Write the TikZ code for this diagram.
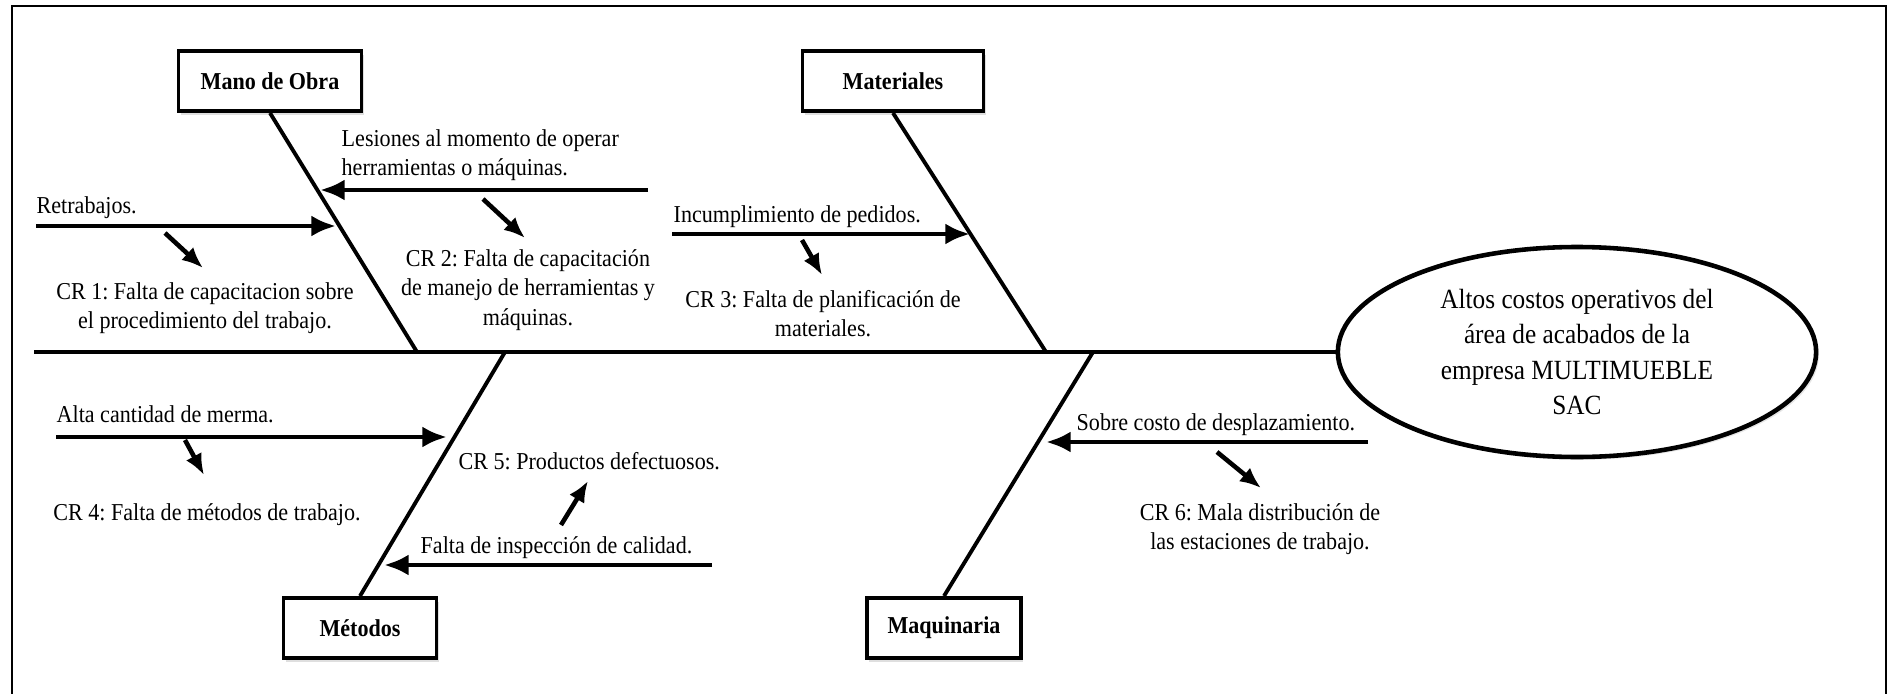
\documentclass[tikz,border=0pt]{standalone}
\usepackage{fontspec}
\setmainfont{Liberation Serif}[FakeStretch=0.91]
\usetikzlibrary{arrows.meta,shadows,shapes.geometric}
\frenchspacing
\begin{document}
\begin{tikzpicture}[x=0.01cm,y=-0.01cm,
	every node/.style={font=\fontsize{6.9pt}{8.3pt}\selectfont},
	cat/.style={draw,line width=1.1pt,minimum height=0.6cm,fill=white,
		font=\fontsize{6.9pt}{8.3pt}\selectfont\bfseries,
		drop shadow={opacity=0.25,shadow xshift=0.6pt,shadow yshift=-1.2pt}},
	lbl/.style={anchor=west,align=left,inner xsep=0pt},
	bone/.style={line width=1.1pt},
	cause/.style={line width=1.4pt,-{Latex[length=7pt,width=6pt]}},
	link/.style={line width=1.3pt,-{Latex[length=6pt,width=5pt]}}]
	\useasboundingbox (0,0) rectangle (1893,694);
	\draw[line width=0.8pt] (12,694) -- (12,6) -- (1886,6) -- (1886,694);

	% efecto y espina
	\node[draw,ellipse,line width=1.3pt,minimum width=4.78cm,minimum height=1.84cm,align=center,
		font=\fontsize{7.9pt}{10pt}\selectfont,
		drop shadow={opacity=0.2,shadow xshift=0.8pt,shadow yshift=-0.8pt},fill=white]
		(efecto) at (1577,352) {Altos costos operativos del\\ área de acabados de la\\ empresa MULTIMUEBLE\\ SAC};
	\coordinate (cola) at (34,352);
	\draw[line width=1.4pt] (cola) -- (efecto.west);

	% categorias
	\node[cat,minimum width=1.83cm] (mano) at (270,81) {Mano de Obra};
	\node[cat,minimum width=1.81cm] (mat) at (893,81) {Materiales};
	\node[cat,minimum width=1.53cm] (met) at (360,628) {Métodos};
	\node[cat,minimum width=1.54cm] (maq) at (944,628) {Maquinaria};
	\coordinate (s1) at (417,352);
	\coordinate (s2) at (1046,352);
	\coordinate (s3) at (505,352);
	\coordinate (s4) at (1093,352);
	\draw[bone] (mano.south) -- (s1);
	\draw[bone] (mat.south) -- (s2);
	\draw[bone] (met.north) -- (s3);
	\draw[bone] (maq.north) -- (s4);

	% Mano de Obra
	\node[lbl] (les) at (341,155) {Lesiones al momento de operar\\ herramientas o máquinas.};
	\coordinate (les-a) at (648,190);
	\coordinate (les-b) at (320,190);
	\draw[cause] (les-a) -- (les-b);
	\node[align=center] (cr2) at (528,290) {CR 2: Falta de capacitación\\ de manejo de herramientas y\\ máquinas.};
	\coordinate (cr2-a) at (483,199);
	\coordinate (cr2-b) at (525,238);
	\draw[link] (cr2-a) -- (cr2-b);
	\node[lbl] (ret) at (36,208) {Retrabajos.};
	\coordinate (ret-a) at (36,226);
	\coordinate (ret-b) at (336,226);
	\draw[cause] (ret-a) -- (ret-b);
	\node[align=center] (cr1) at (205,308) {CR 1: Falta de capacitacion sobre\\ el procedimiento del trabajo.};
	\coordinate (cr1-a) at (165,233);
	\coordinate (cr1-b) at (203,268);
	\draw[link] (cr1-a) -- (cr1-b);

	% Materiales
	\node[lbl] (inc) at (673,217) {Incumplimiento de pedidos.};
	\coordinate (inc-a) at (672,234);
	\coordinate (inc-b) at (970,234);
	\draw[cause] (inc-a) -- (inc-b);
	\node[align=center] (cr3) at (823,314) {CR 3: Falta de planificación de\\ materiales.};
	\coordinate (cr3-a) at (802,240);
	\coordinate (cr3-b) at (822,275);
	\draw[link] (cr3-a) -- (cr3-b);

	% Metodos
	\node[lbl] (mer) at (56,414) {Alta cantidad de merma.};
	\coordinate (mer-a) at (56,437);
	\coordinate (mer-b) at (447,437);
	\draw[cause] (mer-a) -- (mer-b);
	\node (cr4) at (207,515) {CR 4: Falta de métodos de trabajo.};
	\coordinate (cr4-a) at (185,440);
	\coordinate (cr4-b) at (204,475);
	\draw[link] (cr4-a) -- (cr4-b);
	\node[lbl] (cr5) at (458,461) {CR 5: Productos defectuosos.};
	\node[lbl] (ins) at (420,548) {Falta de inspección de calidad.};
	\coordinate (ins-a) at (712,565);
	\coordinate (ins-b) at (384,565);
	\draw[cause] (ins-a) -- (ins-b);
	\coordinate (cr5-a) at (561,525);
	\coordinate (cr5-b) at (588,481);
	\draw[link] (cr5-a) -- (cr5-b);

	% Maquinaria
	\node[lbl] (sob) at (1076,425) {Sobre costo de desplazamiento.};
	\coordinate (sob-a) at (1368,442);
	\coordinate (sob-b) at (1046,442);
	\draw[cause] (sob-a) -- (sob-b);
	\node[align=center] (cr6) at (1260,529) {CR 6: Mala distribución de\\ las estaciones de trabajo.};
	\coordinate (cr6-a) at (1217,452);
	\coordinate (cr6-b) at (1261,488);
	\draw[link] (cr6-a) -- (cr6-b);
\end{tikzpicture}
\end{document}
